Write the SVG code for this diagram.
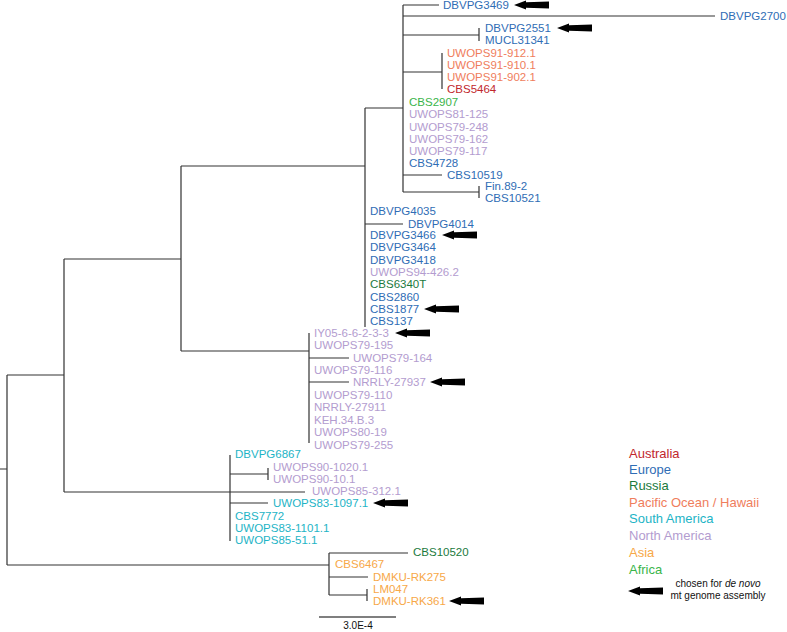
<svg xmlns="http://www.w3.org/2000/svg" xmlns:xlink="http://www.w3.org/1999/xlink" width="787" height="632" viewBox="0 0 787 632">
<defs>
<path id="arr" d="M0,0 L12,-4.5 L12,-2.8 L35,-3.6 L35,3.6 L12,2.8 L12,4.5 Z" fill="#000"/>
<style>
text{font-family:"Liberation Sans",Arial,sans-serif;font-size:11.5px}
.br{fill:none;stroke:#333;stroke-width:1.2}
.au{fill:#c1272d}.eu{fill:#2f6db5}.ru{fill:#1b7a3d}.pa{fill:#ef7d5c}.sa{fill:#1db4c6}.na{fill:#b39ccf}.as{fill:#f7a848}.af{fill:#3ab54a}
.lg{font-size:13px}
.nt{font-size:10px;fill:#111}
</style>
</defs>
<g id="connectors" class="br">
<path d="M0,469H7M7,375V565M7,375H64M64,259V492M64,259H181M181,166V351M181,166H365M365,108V327M365,108H403M403,5V192"/>
<path d="M403,5H439M403,16H715M403,35H479M479,28V41M403,72H442M442,53V89M403,175H442M403,192H479M479,186V198"/>
<path d="M365,224H403"/>
<path d="M181,351H309M309,333V443M309,358H349M309,382H349"/>
<path d="M64,492H305M230,455V541M230,474H268M268,468V480M230,503H268"/>
<path d="M7,565H329M329,553V595M329,553H408M329,577H368M329,595H367M367,589V601"/>
</g>
<g id="scalebar">
<path d="M319,617H396" stroke="#555" stroke-width="1.5"/>
<text x="358" y="629" text-anchor="middle" class="nt">3.0E-4</text>
</g>
<g id="clade-top">
<text x="443" y="9" class="eu">DBVPG3469</text>
<text x="720" y="20" class="eu">DBVPG2700</text>
<text x="485" y="32" class="eu">DBVPG2551</text>
<text x="485" y="44" class="eu">MUCL31341</text>
<text x="447" y="57" class="pa">UWOPS91-912.1</text>
<text x="447" y="69" class="pa">UWOPS91-910.1</text>
<text x="447" y="81" class="pa">UWOPS91-902.1</text>
<text x="447" y="93" class="au">CBS5464</text>
<text x="409" y="106" class="af">CBS2907</text>
<text x="409" y="118" class="na">UWOPS81-125</text>
<text x="409" y="131" class="na">UWOPS79-248</text>
<text x="409" y="143" class="na">UWOPS79-162</text>
<text x="409" y="155" class="na">UWOPS79-117</text>
<text x="409" y="167" class="eu">CBS4728</text>
<text x="447" y="179" class="eu">CBS10519</text>
<text x="485" y="190" class="eu">Fin.89-2</text>
<text x="485" y="202" class="eu">CBS10521</text>
</g>
<g id="clade-c">
<text x="370" y="215" class="eu">DBVPG4035</text>
<text x="408" y="228" class="eu">DBVPG4014</text>
<text x="370" y="239" class="eu">DBVPG3466</text>
<text x="370" y="251" class="eu">DBVPG3464</text>
<text x="370" y="264" class="eu">DBVPG3418</text>
<text x="370" y="276" class="na">UWOPS94-426.2</text>
<text x="370" y="288" class="ru">CBS6340T</text>
<text x="370" y="301" class="eu">CBS2860</text>
<text x="370" y="313" class="eu">CBS1877</text>
<text x="370" y="325" class="eu">CBS137</text>
</g>
<g id="clade-e">
<text x="314" y="337" class="na">IY05-6-6-2-3-3</text>
<text x="314" y="349" class="na">UWOPS79-195</text>
<text x="353" y="362" class="na">UWOPS79-164</text>
<text x="314" y="374" class="na">UWOPS79-116</text>
<text x="353" y="386" class="na">NRRLY-27937</text>
<text x="314" y="399" class="na">UWOPS79-110</text>
<text x="314" y="411" class="na">NRRLY-27911</text>
<text x="314" y="424" class="na">KEH.34.B.3</text>
<text x="314" y="436" class="na">UWOPS80-19</text>
<text x="314" y="449" class="na">UWOPS79-255</text>
</g>
<g id="clade-sa">
<text x="235" y="458" class="sa">DBVPG6867</text>
<text x="273" y="471" class="na">UWOPS90-1020.1</text>
<text x="273" y="483" class="na">UWOPS90-10.1</text>
<text x="312" y="495" class="na">UWOPS85-312.1</text>
<text x="273" y="507" class="sa">UWOPS83-1097.1</text>
<text x="235" y="520" class="sa">CBS7772</text>
<text x="235" y="532" class="sa">UWOPS83-1101.1</text>
<text x="235" y="544" class="sa">UWOPS85-51.1</text>
</g>
<g id="clade-asia">
<text x="413" y="556" class="ru">CBS10520</text>
<text x="335" y="568" class="as">CBS6467</text>
<text x="373" y="581" class="as">DMKU-RK275</text>
<text x="373" y="593" class="as">LM047</text>
<text x="373" y="605" class="as">DMKU-RK361</text>
</g>
<g id="arrows">
<use xlink:href="#arr" x="514" y="5"/>
<use xlink:href="#arr" x="557" y="28"/>
<use xlink:href="#arr" x="442" y="235"/>
<use xlink:href="#arr" x="424" y="309"/>
<use xlink:href="#arr" x="395" y="333"/>
<use xlink:href="#arr" x="430" y="382"/>
<use xlink:href="#arr" x="373" y="503"/>
<use xlink:href="#arr" x="449" y="601"/>
</g>
<g id="legend">
<text x="629" y="458" class="lg au">Australia</text>
<text x="629" y="474" class="lg eu">Europe</text>
<text x="629" y="490" class="lg ru">Russia</text>
<text x="629" y="507" class="lg pa">Pacific Ocean / Hawaii</text>
<text x="629" y="523" class="lg sa">South America</text>
<text x="629" y="540" class="lg na">North America</text>
<text x="629" y="557" class="lg as">Asia</text>
<text x="629" y="574" class="lg af">Africa</text>
<use xlink:href="#arr" x="628" y="591"/>
<text x="718" y="587" text-anchor="middle" class="nt">chosen for <tspan font-style="italic">de novo</tspan></text>
<text x="718" y="599" text-anchor="middle" class="nt">mt genome assembly</text>
</g>
</svg>
